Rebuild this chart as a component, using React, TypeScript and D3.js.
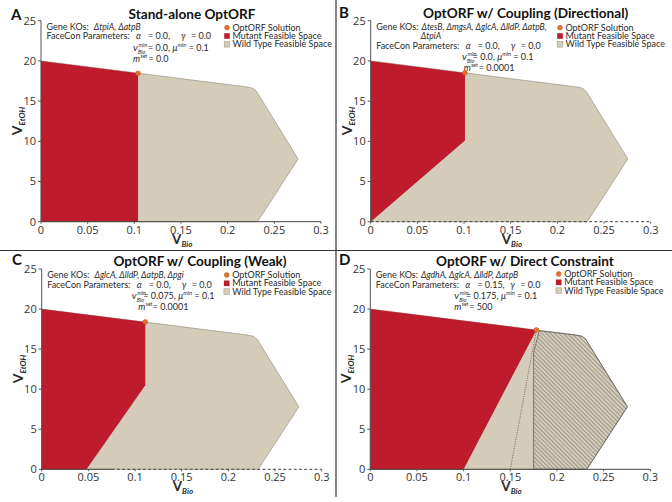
import React from 'react';
import * as d3 from 'd3';

type Pt = [number, number];

const xTicks = [0, 0.05, 0.1, 0.15, 0.2, 0.25, 0.3];
const yTicks = [0, 5, 10, 15, 20, 25];

const wildType: Pt[] = [[0, 0], [0, 20], [0.221, 16.75], [0.227, 16.6], [0.231, 16.2], [0.2755, 7.8], [0.232, 0]];
const mutantA: Pt[] = [[0, 0], [0, 20], [0.104, 18.46], [0.104, 0]];
const mutantB: Pt[] = [[0, 0], [0, 20], [0.101, 18.5], [0.101, 10.1]];
const mutantC: Pt[] = [[0, 0], [0, 20], [0.111, 18.4], [0.111, 10.5], [0.048, 0]];
const mutantD: Pt[] = [[0, 0], [0, 20], [0.178, 17.4], [0.1, 0]];
const hatchD: Pt[] = [[0.175, 0], [0.175, 14.6], [0.181, 17.3], [0.221, 16.75], [0.227, 16.6], [0.231, 16.2], [0.2755, 7.8], [0.232, 0]];
const dottedD: Pt[] = [[0.15, 0], [0.178, 17.4]];

const optimumA: Pt = [0.104, 18.46];
const optimumB: Pt = [0.101, 18.5];
const optimumC: Pt = [0.111, 18.4];
const optimumD: Pt = [0.178, 17.4];

// x-axis segments: [from, to, dashed]
const axisA: [number, number, boolean][] = [[0, 0.3, false]];
const axisB: [number, number, boolean][] = [[0, 0.3, true]];
const axisC: [number, number, boolean][] = [[0, 0.075, false], [0.075, 0.3, true]];
const axisD: [number, number, boolean][] = [[0, 0.3, false]];

const titles = ['Stand-alone OptORF', 'OptORF w/ Coupling (Directional)', 'OptORF w/ Coupling (Weak)', 'OptORF w/ Direct Constraint'];
const letters = ['A', 'B', 'C', 'D'];

const geneKOsA = ['ΔtpiA', 'ΔatpB'];
const geneKOsB = ['ΔtesB', 'ΔmgsA', 'ΔglcA', 'ΔlldP', 'ΔatpB', 'ΔtpiA'];
const geneKOsC = ['ΔglcA', 'ΔlldP', 'ΔatpB', 'Δpgi'];
const geneKOsD = ['ΔgdhA', 'ΔglcA', 'ΔlldP', 'ΔatpB'];

// [alpha, gamma, vBioMin, muMin, mSet]
const paramsA = ['0.0', '0.0', '0.0', '0.1', '0.0'];
const paramsB = ['0.0', '0.0', '0.0', '0.1', '0.0001'];
const paramsC = ['0.0', '0.0', '0.075', '0.1', '0.0001'];
const paramsD = ['0.15', '0.0', '0.175', '0.1', '500'];

const legendLabels = ['OptORF Solution', 'Mutant Feasible Space', 'Wild Type Feasible Space'];

const RED = '#be1b2d';
const TAN = '#d4cbb9';
const ORANGE = '#e8702a';
const TXT = '#2a2a2a';
const NOTE_FONT = "Lato, 'Open Sans', sans-serif";
const TITLE_FONT = "Lato, 'Open Sans', sans-serif";
const TICK_FONT = "'Open Sans', sans-serif";

interface PanelCfg {
  idx: number;
  ox: number;
  oy: number;
  h: number;
  titleX: number;
  titleY: number;
  letterX: number;
  letterY: number;
  mutant: Pt[];
  optimum: Pt;
  axis: [number, number, boolean][];
  genes: string[];
  geneBreak: number;
  geneGap: number;
  params: string[];
  legendX: number;
  legendY: number;
  vx: number;
  vEq: number;
  mx: number;
  mEq: number;
  hatch?: Pt[];
  dotted?: Pt[];
}

function Panel({ c }: { c: PanelCfg }) {
  const x = d3.scaleLinear().domain([0, 0.3]).range([c.ox, c.ox + 280]);
  const y = d3.scaleLinear().domain([0, 25]).range([c.oy + c.h, c.oy]);
  const line = d3.line<Pt>().x((d) => x(d[0])).y((d) => y(d[1]));
  const poly = (p: Pt[]) => line(p) + 'Z';
  const extra = c.geneBreak < c.genes.length ? 9.3 : 0;
  const gY = c.oy + 9.3;
  const fY = c.oy + 18.6 + extra;
  const vY = c.oy + 29.8 + extra;
  const mY = c.oy + 41 + extra;
  const fs = 9;
  const small = 5.5;
  const line1 = c.genes.slice(0, c.geneBreak).join(', ') + (c.geneBreak < c.genes.length ? ',' : '');
  const line2 = c.genes.slice(c.geneBreak).join(', ');
  const ax = c.ox;
  return (
    <g>
      <path d={poly(wildType)} fill={TAN} stroke="#9a9386" strokeWidth={0.7} />
      {c.hatch && (
        <path d={poly(c.hatch)} fill="url(#hatch)" stroke="#555" strokeWidth={0.7} />
      )}
      <path d={poly(c.mutant)} fill={RED} stroke="none" />
      {c.dotted && (
        <path d={line(c.dotted) || ''} fill="none" stroke="#444" strokeWidth={0.7} strokeDasharray="1,1.3" />
      )}
      {/* y axis */}
      <line x1={x(0)} x2={x(0)} y1={y(0)} y2={y(25)} stroke="#555" strokeWidth={1} />
      {yTicks.map((t) => (
        <g key={'y' + t}>
          <line x1={x(0) - 3} x2={x(0)} y1={y(t)} y2={y(t)} stroke="#555" strokeWidth={1} />
          <text x={x(0) - 5} y={y(t)} dy="0.35em" textAnchor="end" fontSize={11} fontFamily={TICK_FONT} fill="#333">{t}</text>
        </g>
      ))}
      {/* x axis */}
      {c.axis.map((s, i) => (
        <line key={'ax' + i} x1={x(s[0])} x2={x(s[1])} y1={y(0)} y2={y(0)} stroke="#444" strokeWidth={1} strokeDasharray={s[2] ? '3,2.2' : undefined} />
      ))}
      {xTicks.map((t) => (
        <g key={'x' + t}>
          <line x1={x(t)} x2={x(t)} y1={y(0)} y2={y(0) + 2} stroke="#555" strokeWidth={1} />
          <text x={x(t)} y={y(0) + 12} textAnchor="middle" fontSize={11} fontFamily={TICK_FONT} fill="#333">{t}</text>
        </g>
      ))}
      {/* axis titles */}
      <text x={x(0.15) - 9} y={y(0) + 22} fontFamily={TITLE_FONT} fontWeight="bold" fontSize={13.5} fill={TXT}>
        V<tspan fontSize={8} fontStyle="italic" dy={3}>Bio</tspan>
      </text>
      <text transform={`translate(${ax - 19},${(y(0) + y(25)) / 2 + 14}) rotate(-90)`} fontFamily={TITLE_FONT} fontWeight="bold" fontSize={14} fill={TXT}>
        V<tspan fontSize={8} fontStyle="italic" dy={3}>EtOH</tspan>
      </text>
      {/* title and letter */}
      <text x={c.titleX} y={c.titleY} textAnchor="middle" fontFamily={TITLE_FONT} fontWeight="bold" fontSize={13.6} fill="#111">{titles[c.idx]}</text>
      <text x={c.letterX} y={c.letterY} fontFamily={TITLE_FONT} fontWeight="bold" fontSize={15} fill="#111">{letters[c.idx]}</text>
      {/* notes */}
      <g fontFamily={NOTE_FONT} fontSize={fs} fill={TXT}>
        <text x={ax + 5.5} y={gY}>
          Gene KOs:
          <tspan dx={c.geneGap} fontStyle="italic" fontSize={8.6}>{line1}</tspan>
        </text>
        {line2 && <text x={ax + 50} y={gY + 9.3} fontStyle="italic" fontSize={8.6}>{line2}</text>}
        <text x={ax + 5.5} y={fY}>FaceCon Parameters:</text>
        <text x={ax + 95} y={fY} fontStyle="italic">α</text>
        <text x={ax + 107} y={fY}>{'= ' + c.params[0] + ','}</text>
        <text x={ax + 140} y={fY} fontStyle="italic">γ</text>
        <text x={ax + 150} y={fY}>{'= ' + c.params[1]}</text>
        <text x={ax + c.vx} y={vY} fontStyle="italic" fontSize={fs + 1}>v</text>
        <text x={ax + c.vx + 5.5} y={vY - 3.5} fontSize={small}>min</text>
        <text x={ax + c.vx + 5} y={vY + 3} fontSize={small} fontStyle="italic">Bio</text>
        <text x={ax + c.vEq} y={vY}>
          {'= ' + c.params[2] + ', '}
          <tspan fontStyle="italic">μ</tspan>
          <tspan fontSize={small} dy={-3.5}>min</tspan>
          <tspan dy={3.5}>{' = ' + c.params[3]}</tspan>
        </text>
        <text x={ax + c.mx} y={mY} fontStyle="italic">m</text>
        <text x={ax + c.mx + 7.5} y={mY - 4} fontSize={5}>set</text>
        <text x={ax + c.mEq} y={mY}>{'= ' + c.params[4]}</text>
      </g>
      {/* legend */}
      <g fontFamily={NOTE_FONT} fontSize={fs} fill={TXT}>
        <circle cx={c.legendX} cy={c.legendY} r={2.4} fill={ORANGE} stroke="#b5501a" strokeWidth={0.5} />
        <rect x={c.legendX - 2.8} y={c.legendY + 8.3 - 2.8} width={5.6} height={5.6} fill={RED} />
        <rect x={c.legendX - 2.8} y={c.legendY + 16.6 - 2.8} width={5.6} height={5.6} fill={TAN} stroke="#9a9386" strokeWidth={0.5} />
        {legendLabels.map((l, i) => (
          <text key={l} x={c.legendX + 5.5} y={c.legendY + i * 8.3} dy="0.35em">{l}</text>
        ))}
      </g>
      {/* optimum */}
      <circle cx={x(c.optimum[0])} cy={y(c.optimum[1])} r={2.4} fill={ORANGE} stroke="#b5501a" strokeWidth={0.5} />
    </g>
  );
}

const panels: PanelCfg[] = [
  { idx: 0, ox: 41, oy: 20.7, h: 201, titleX: 192, titleY: 19, letterX: 11, letterY: 19.5, mutant: mutantA, optimum: optimumA, axis: axisA, genes: geneKOsA, geneBreak: 2, geneGap: 5, params: paramsA, legendX: 227, legendY: 27.7, vx: 92, vEq: 107, mx: 92, mEq: 107.5 },
  { idx: 1, ox: 370.7, oy: 20.7, h: 201, titleX: 525.7, titleY: 18, letterX: 339, letterY: 18, mutant: mutantB, optimum: optimumB, axis: axisB, genes: geneKOsB, geneBreak: 5, geneGap: 3, params: paramsB, legendX: 560, legendY: 27.7, vx: 91.3, vEq: 102, mx: 93, mEq: 108 },
  { idx: 2, ox: 41.7, oy: 269, h: 200.3, titleX: 200, titleY: 265.5, letterX: 12, letterY: 265, mutant: mutantC, optimum: optimumC, axis: axisC, genes: geneKOsC, geneBreak: 4, geneGap: 5, params: paramsC, legendX: 226.7, legendY: 275, vx: 90, vEq: 101.6, mx: 96.6, mEq: 111 },
  { idx: 3, ox: 370.3, oy: 269, h: 200.3, titleX: 525, titleY: 265.5, letterX: 339, letterY: 265, mutant: mutantD, optimum: optimumD, axis: axisD, genes: geneKOsD, geneBreak: 4, geneGap: 3, params: paramsD, legendX: 558.7, legendY: 274, vx: 84, vEq: 95.7, mx: 84, mEq: 99, hatch: hatchD, dotted: dottedD },
];

export default function App() {
  return (
    <svg width={672} height={502} style={{ position: 'absolute', left: 0, top: 0, background: '#fff' }}>
      <defs>
        <pattern id="hatch" patternUnits="userSpaceOnUse" width={3} height={3} patternTransform="rotate(-45)">
          <line x1={0} y1={0} x2={0} y2={3} stroke="#4a4a4a" strokeWidth={0.8} />
        </pattern>
      </defs>
      <rect x={0} y={0} width={672} height={502} fill="#fff" />
      {panels.map((p) => (
        <Panel key={p.idx} c={p} />
      ))}
      <line x1={336} x2={336} y1={0} y2={497} stroke="#333" strokeWidth={1.2} />
      <line x1={0} x2={672} y1={250.5} y2={250.5} stroke="#333" strokeWidth={1.2} />
    </svg>
  );
}
